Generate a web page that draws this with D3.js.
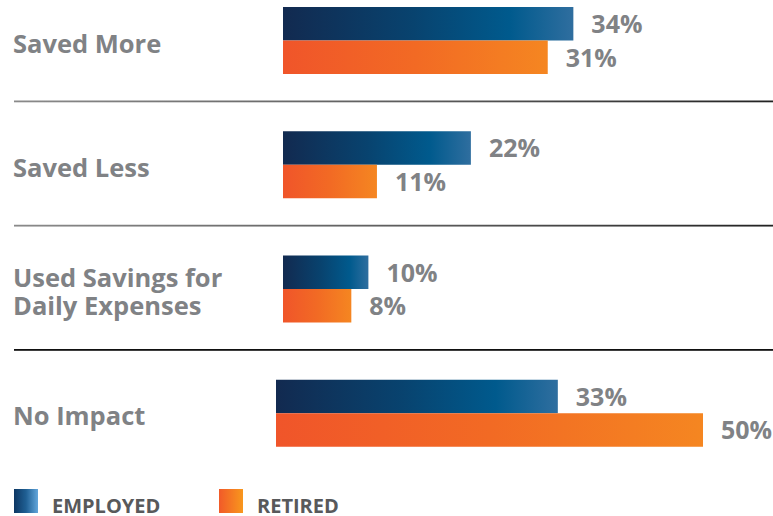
<!DOCTYPE html>
<html>
<head>
<meta charset="utf-8">
<script src="https://cdn.jsdelivr.net/npm/d3@7"></script>
<style>
  html, body { margin: 0; padding: 0; background: #fff; }
  svg { display: block; font-family: "Open Sans", "Noto Sans", sans-serif; font-weight: 700; }
</style>
</head>
<body>
<div id="chart"></div>
<script>
// data
const categories = ["Saved More", "Saved Less", "Used Savings for\nDaily Expenses", "No Impact"];
const seriesNames = ["EMPLOYED", "RETIRED"];
const employed = [34, 22, 10, 33];
const retired = [31, 11, 8, 50];

const width = 773, height = 516;

const svg = d3.select("#chart")
              .append("svg")
              .attr("width", width)
              .attr("height", height);

const defs = svg.append("defs");

function gradient(id, stops) {
  const g = defs.append("linearGradient")
                .attr("id", id)
                .attr("x1", "0%").attr("x2", "100%")
                .attr("y1", "0%").attr("y2", "0%");
  stops.forEach(([o, c]) => g.append("stop").attr("offset", o).attr("stop-color", c));
}
gradient("gradEmp", [[0, "#122a50"], [0.45, "#08436f"], [0.78, "#005a8d"], [1, "#2f6e9f"]]);
gradient("gradRet", [[0, "#f0552a"], [0.5, "#f26a24"], [1, "#f58621"]]);
gradient("legEmp", [[0, "#0d3763"], [0.5, "#1f5f93"], [1, "#63a6db"]]);
gradient("legRet", [[0, "#f15a29"], [1, "#f8971d"]]);
gradient("sepGrad", [[0, "#8a8a8a"], [0.6, "#555"], [1, "#222"]]);

const series = [
  {name: seriesNames[0], values: employed, fill: "url(#gradEmp)", legend: "url(#legEmp)"},
  {name: seriesNames[1], values: retired, fill: "url(#gradRet)", legend: "url(#legRet)"}
];

// layout
const x0 = 283;
const groupShift = [0, 0, 0, -7];
const x = d3.scaleLinear().domain([0, 50]).range([0, 427]);

const y = d3.scaleBand()
            .domain(categories)
            .range([0, 497]);

const inner = d3.scaleBand()
                .domain(seriesNames)
                .range([7, 74]);

const groups = svg.selectAll(".group")
                  .data(categories)
                  .enter()
                  .append("g")
                  .attr("class", "group")
                  .attr("transform", d => `translate(0, ${y(d)})`);

// category labels
groups.append("text")
      .attr("x", 13)
      .attr("fill", "#808285")
      .style("font-size", "25.5px")
      .each(function(d) {
        const lines = d.split("\n");
        const t = d3.select(this);
        const base = lines.length === 1 ? 52.5 : 38.5;
        lines.forEach((line, i) => {
          t.append("tspan").attr("x", 13).attr("y", base + i * 27.5).text(line);
        });
      });

// bars + values
series.forEach(s => {
  groups.append("rect")
        .attr("x", (d, i) => x0 + groupShift[i])
        .attr("y", inner(s.name))
        .attr("width", (d, i) => x(s.values[i]))
        .attr("height", inner.bandwidth())
        .attr("fill", s.fill);

  groups.append("text")
        .attr("x", (d, i) => x0 + groupShift[i] + x(s.values[i]) + 18)
        .attr("y", inner(s.name) + inner.bandwidth() / 2)
        .attr("dy", "0.37em")
        .attr("fill", "#808285")
        .style("font-size", "25px")
        .text((d, i) => s.values[i] + "%");
});

// separators
groups.filter((d, i) => i < categories.length - 1)
      .append("rect")
      .attr("x", 14)
      .attr("y", 100.5)
      .attr("width", width - 14)
      .attr("height", 1.8)
      .attr("fill", (d, i) => i === 2 ? "#111" : "url(#sepGrad)");

// legend
const legendX = [14, 219];
const legend = svg.selectAll(".legend")
                  .data(series)
                  .enter()
                  .append("g")
                  .attr("class", "legend")
                  .attr("transform", (d, i) => `translate(${legendX[i]}, 489)`);

legend.append("rect")
      .attr("width", 24)
      .attr("height", 24)
      .attr("fill", d => d.legend);

legend.append("text")
      .attr("x", 38)
      .attr("y", 23.5)
      .attr("fill", "#58595b")
      .style("font-size", "20px")
      .text(d => d.name);
</script>
</body>
</html>
